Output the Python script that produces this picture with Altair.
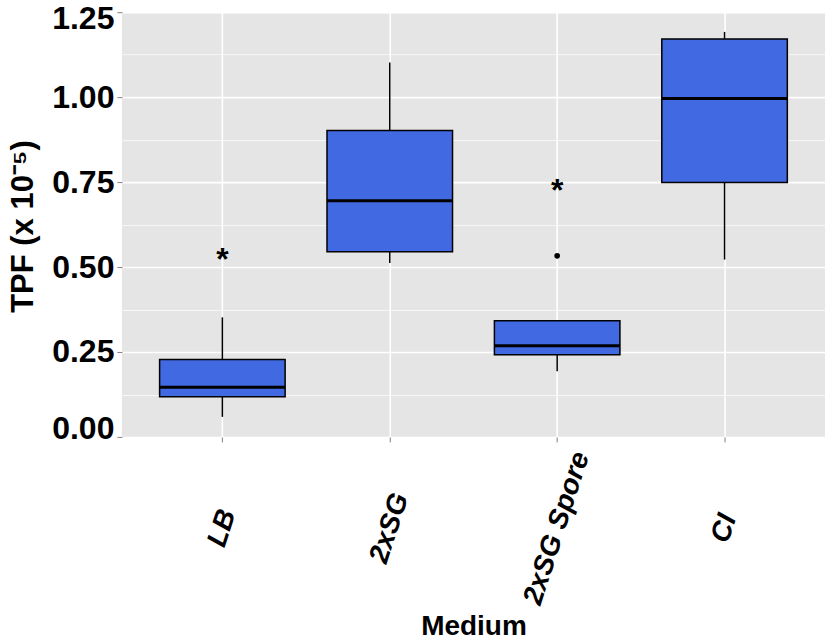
import altair as alt
import pandas as pd

# Five-number summaries of TPF per growth medium
media = ["LB", "2xSG", "2xSG Spore", "CI"]
whisker_low = [0.059, 0.512, 0.193, 0.522]
q1 = [0.118, 0.545, 0.242, 0.749]
median = [0.146, 0.695, 0.268, 0.996]
q3 = [0.228, 0.902, 0.342, 1.171]
whisker_high = [0.352, 1.102, 0.342, 1.192]

# Outlying observation
outlier_medium = ["2xSG Spore"]
outlier_value = [0.533]

# Significance markers
star_medium = ["LB", "2xSG Spore"]
star_value = [0.545, 0.747]

box_df = pd.DataFrame({
    "Medium": media, "lo": whisker_low, "q1": q1,
    "med": median, "q3": q3, "hi": whisker_high,
})
out_df = pd.DataFrame({"Medium": outlier_medium, "v": outlier_value})
star_df = pd.DataFrame({"Medium": star_medium, "v": star_value, "t": ["*"] * len(star_medium)})

FONT = "Liberation Sans"
BLUE = "#4169E1"
PLOT_W = 703.5
PLOT_H = 425
BOX_W = 125.6

y_ticks = [i * 0.125 for i in range(11)]
major = "abs(datum.value / 0.25 - round(datum.value / 0.25)) < 1e-6"

x_enc = alt.X(
    "Medium:N",
    sort=media,
    scale=alt.Scale(paddingInner=0, paddingOuter=0.1),
    axis=alt.Axis(
        title="Medium",
        titleFont=FONT, titleFontSize=28, titleFontWeight="bold", titleColor="black",
        titleX=PLOT_W / 2, titleY=198, titleAlign="center", titleBaseline="alphabetic",
        labelFont=FONT, labelFontSize=28, labelFontWeight="bold", labelFontStyle="italic",
        labelColor="black", labelAngle=288, labelAlign="center", labelBaseline="middle",
        labelPadding=86, labelOverlap=False,
        domain=False, ticks=True, tickSize=5, tickColor="#7F7F7F", tickWidth=1,
        grid=True, gridColor="white", gridWidth=1.6, bandPosition=0.5,
    ),
)


def y_enc(field):
    return alt.Y(
        f"{field}:Q",
        scale=alt.Scale(domain=[0, 1.25], nice=False, zero=True),
        axis=alt.Axis(
            title="TPF (x 10⁻⁵)",
            titleFont=FONT, titleFontSize=31, titleFontWeight="bold", titleColor="black",
            titleAngle=270, titleX=-89, titleY=214, titleAlign="center", titleBaseline="alphabetic",
            values=y_ticks,
            labelExpr=f"{major} ? format(datum.value, '.2f') : ''",
            labelFont=FONT, labelFontSize=32, labelFontWeight="bold", labelColor="black",
            labelPadding=3, labelOverlap=False, labelBound=False,
            labelFlush=True, labelFlushOffset=9,
            domain=False, tickSize=5, tickColor="#7F7F7F",
            tickOpacity={"condition": {"test": major, "value": 1}, "value": 0},
            grid=True, gridColor="white",
            gridWidth={"condition": {"test": major, "value": 1.6}, "value": 0.7},
        ),
    )


whiskers = alt.Chart(box_df).mark_rule(color="black", strokeWidth=1.5).encode(
    x=x_enc, y=y_enc("lo"), y2="hi:Q"
)
boxes = alt.Chart(box_df).mark_bar(
    size=BOX_W, fill=BLUE, stroke="black", strokeWidth=1.5
).encode(x=x_enc, y=y_enc("q1"), y2="q3:Q")
medians = alt.Chart(box_df).mark_tick(
    size=BOX_W, thickness=3, color="black", opacity=1
).encode(x=x_enc, y=y_enc("med"))
outliers = alt.Chart(out_df).mark_point(
    filled=True, color="black", size=32, opacity=1
).encode(x=x_enc, y=y_enc("v"))
stars = alt.Chart(star_df).mark_text(
    font=FONT, fontSize=32, fontWeight="bold", color="black",
    baseline="alphabetic", align="center", dy=18
).encode(x=x_enc, y=y_enc("v"), text="t:N")

chart = alt.layer(whiskers, boxes, medians, outliers, stars).properties(
    width=PLOT_W,
    height=PLOT_H,
    autosize=alt.AutoSizeParams(type="none"),
    padding={"left": 122, "top": 12, "right": 0, "bottom": 207},
    background="white",
).configure_view(fill="#E5E5E5", stroke=None)

chart.save("out.html", embed_options={"renderer": "svg", "actions": False})
